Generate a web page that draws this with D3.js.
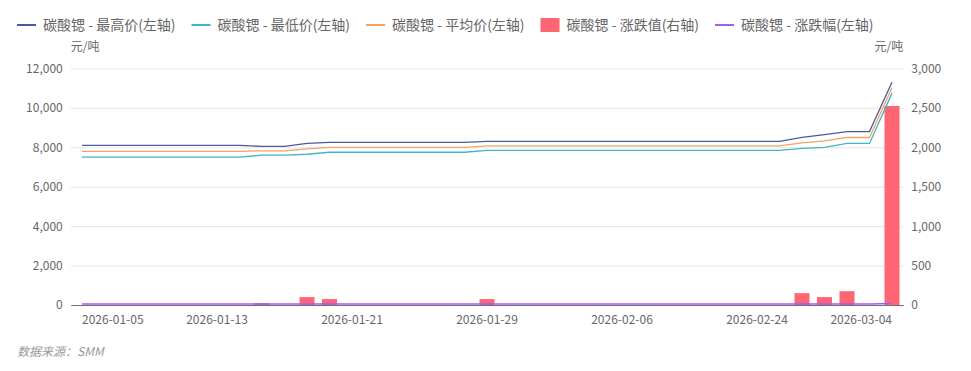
<!DOCTYPE html>
<html>
<head>
<meta charset="utf-8">
<script src="https://cdn.jsdelivr.net/npm/d3@7"></script>
<style>
  body { margin: 0; background: #fff; }
  text { font-family: "Noto Sans CJK SC", "Noto Sans", sans-serif; }
</style>
</head>
<body>
<div id="chart"></div>
<script>
// trading days
var dates = [
  "2026-01-05", "2026-01-06", "2026-01-07", "2026-01-08", "2026-01-09",
  "2026-01-12", "2026-01-13", "2026-01-14", "2026-01-15", "2026-01-16",
  "2026-01-19", "2026-01-20", "2026-01-21", "2026-01-22", "2026-01-23",
  "2026-01-26", "2026-01-27", "2026-01-28", "2026-01-29", "2026-01-30",
  "2026-02-02", "2026-02-03", "2026-02-04", "2026-02-05", "2026-02-06",
  "2026-02-09", "2026-02-10", "2026-02-11", "2026-02-12", "2026-02-13",
  "2026-02-24", "2026-02-25", "2026-02-26", "2026-02-27", "2026-03-02",
  "2026-03-03", "2026-03-04"
];

var highPrice = [
  8100, 8100, 8100, 8100, 8100, 8100, 8100, 8100, 8050, 8050,
  8200, 8250, 8250, 8250, 8250, 8250, 8250, 8250, 8300, 8300,
  8300, 8300, 8300, 8300, 8300, 8300, 8300, 8300, 8300, 8300,
  8300, 8300, 8500, 8650, 8800, 8800, 11300
];
var lowPrice = [
  7500, 7500, 7500, 7500, 7500, 7500, 7500, 7500, 7600, 7600,
  7650, 7750, 7750, 7750, 7750, 7750, 7750, 7750, 7850, 7850,
  7850, 7850, 7850, 7850, 7850, 7850, 7850, 7850, 7850, 7850,
  7850, 7850, 7950, 8000, 8200, 8200, 10750
];
var avgPrice = [
  7800, 7800, 7800, 7800, 7800, 7800, 7800, 7800, 7825, 7825,
  7925, 8000, 8000, 8000, 8000, 8000, 8000, 8000, 8075, 8075,
  8075, 8075, 8075, 8075, 8075, 8075, 8075, 8075, 8075, 8075,
  8075, 8075, 8225, 8325, 8500, 8500, 11025
];
var change = [
  0, 0, 0, 0, 0, 0, 0, 0, 25, 0,
  100, 75, 0, 0, 0, 0, 0, 0, 75, 0,
  0, 0, 0, 0, 0, 0, 0, 0, 0, 0,
  0, 0, 150, 100, 175, 0, 2525
];
var changePct = [
  0, 0, 0, 0, 0, 0, 0, 0, 0.32, 0,
  1.28, 0.95, 0, 0, 0, 0, 0, 0, 0.94, 0,
  0, 0, 0, 0, 0, 0, 0, 0, 0, 0,
  0, 0, 1.86, 1.22, 2.10, 0, 29.71
];

var leftTicks = [0, 2000, 4000, 6000, 8000, 10000, 12000];
var rightTicks = [0, 500, 1000, 1500, 2000, 2500, 3000];
var xLabels = ["2026-01-05", "2026-01-13", "2026-01-21", "2026-01-29", "2026-02-06", "2026-02-24", "2026-03-04"];

var seriesNames = [
  "碳酸锶 - 最高价(左轴)", "碳酸锶 - 最低价(左轴)", "碳酸锶 - 平均价(左轴)",
  "碳酸锶 - 涨跌值(右轴)", "碳酸锶 - 涨跌幅(左轴)"
];
var colors = ["#4d5a9a", "#3fb5c7", "#f3a362", "#ff6673", "#a65cf2"];

var svgWidth = 971;
var svgHeight = 371;

var margin = { top: 68.5, right: 67.75, bottom: 66, left: 70.75 };
var width = svgWidth - margin.left - margin.right;
var height = svgHeight - margin.top - margin.bottom;

var svg = d3.select("#chart")
  .append("svg")
  .attr("width", svgWidth)
  .attr("height", svgHeight);

var chartGroup = svg.append("g")
  .attr("transform", `translate(${margin.left}, ${margin.top})`);

// scales
var xScale = d3.scaleBand()
  .domain(dates)
  .range([0, width]);

var yLeft = d3.scaleLinear().domain([0, 12000]).range([height, 0]);
var yRight = d3.scaleLinear().domain([0, 3000]).range([height, 0]);

var fmt = d3.format(",");

// gridlines
chartGroup.append("g")
  .call(d3.axisLeft(yLeft).tickValues(leftTicks).tickSize(-width).tickFormat(""))
  .call(g => g.select(".domain").remove())
  .call(g => g.selectAll("line").attr("stroke", "#e6e6e6"));

// left axis
chartGroup.append("g")
  .call(d3.axisLeft(yLeft).tickValues(leftTicks).tickSize(0).tickPadding(8).tickFormat(fmt))
  .call(g => g.select(".domain").remove())
  .call(g => g.selectAll("text").attr("fill", "#666").attr("font-size", "12px"));

// right axis
chartGroup.append("g")
  .attr("transform", `translate(${width}, 0)`)
  .call(d3.axisRight(yRight).tickValues(rightTicks).tickSize(0).tickPadding(8).tickFormat(fmt))
  .call(g => g.select(".domain").remove())
  .call(g => g.selectAll("text").attr("fill", "#666").attr("font-size", "12px"));

// units
chartGroup.append("text")
  .attr("x", 0).attr("y", -18)
  .attr("fill", "#666").attr("font-size", "12px")
  .text("元/吨");
chartGroup.append("text")
  .attr("x", width).attr("y", -18)
  .attr("text-anchor", "end")
  .attr("fill", "#666").attr("font-size", "12px")
  .text("元/吨");

// bars (right axis)
var barW = 15;
chartGroup.selectAll(".bar")
  .data(change)
  .enter()
  .append("rect")
  .attr("class", "bar")
  .attr("x", (d, i) => xScale(dates[i]) + xScale.bandwidth() / 2 - barW / 2)
  .attr("y", d => yRight(d))
  .attr("width", barW)
  .attr("height", d => height - yRight(d))
  .attr("fill", colors[3]);

// x axis
var xAxis = chartGroup.append("g")
  .attr("transform", `translate(0, ${height})`)
  .call(d3.axisBottom(xScale).tickValues(xLabels).tickSize(0).tickPadding(10));
xAxis.select(".domain").attr("stroke", "#6e7079");
xAxis.selectAll("text")
  .attr("fill", "#666")
  .attr("font-size", "12px")
  .attr("text-anchor", (d, i) => i === 0 ? "start" : (i === xLabels.length - 1 ? "end" : "middle"));

// lines
var cx = (d, i) => xScale(dates[i]) + xScale.bandwidth() / 2;
var lineSeries = [highPrice, lowPrice, avgPrice];
lineSeries.forEach(function(vals, k) {
  chartGroup.append("path")
    .datum(vals)
    .attr("fill", "none")
    .attr("stroke", colors[k])
    .attr("stroke-width", 1.3)
    .attr("d", d3.line().x(cx).y(d => yLeft(d)));
});

chartGroup.append("path")
  .datum(changePct)
  .attr("fill", "none")
  .attr("stroke", colors[4])
  .attr("stroke-width", 1.5)
  .attr("d", d3.line().x(cx).y(d => yLeft(d) - 1));

// legend
var legendX = [17, 191.5, 366, 540.5, 715];
var legend = svg.append("g");
seriesNames.forEach(function(name, i) {
  var g = legend.append("g").attr("transform", `translate(${legendX[i]}, 25)`);
  if (i === 3) {
    g.append("rect")
      .attr("x", 0).attr("y", -7)
      .attr("width", 19).attr("height", 14)
      .attr("fill", colors[i]);
  } else {
    g.append("line")
      .attr("x1", 0).attr("x2", 19)
      .attr("y1", 0).attr("y2", 0)
      .attr("stroke", colors[i])
      .attr("stroke-width", 2);
  }
  g.append("text")
    .attr("x", 26).attr("y", 0)
    .attr("dy", "0.35em")
    .attr("fill", "#666")
    .attr("font-size", "14px")
    .text(name);
});

// source
svg.append("text")
  .attr("x", 17).attr("y", 356)
  .attr("fill", "#999")
  .attr("font-size", "12px")
  .attr("font-style", "italic")
  .text("数据来源：SMM");
</script>
</body>
</html>
